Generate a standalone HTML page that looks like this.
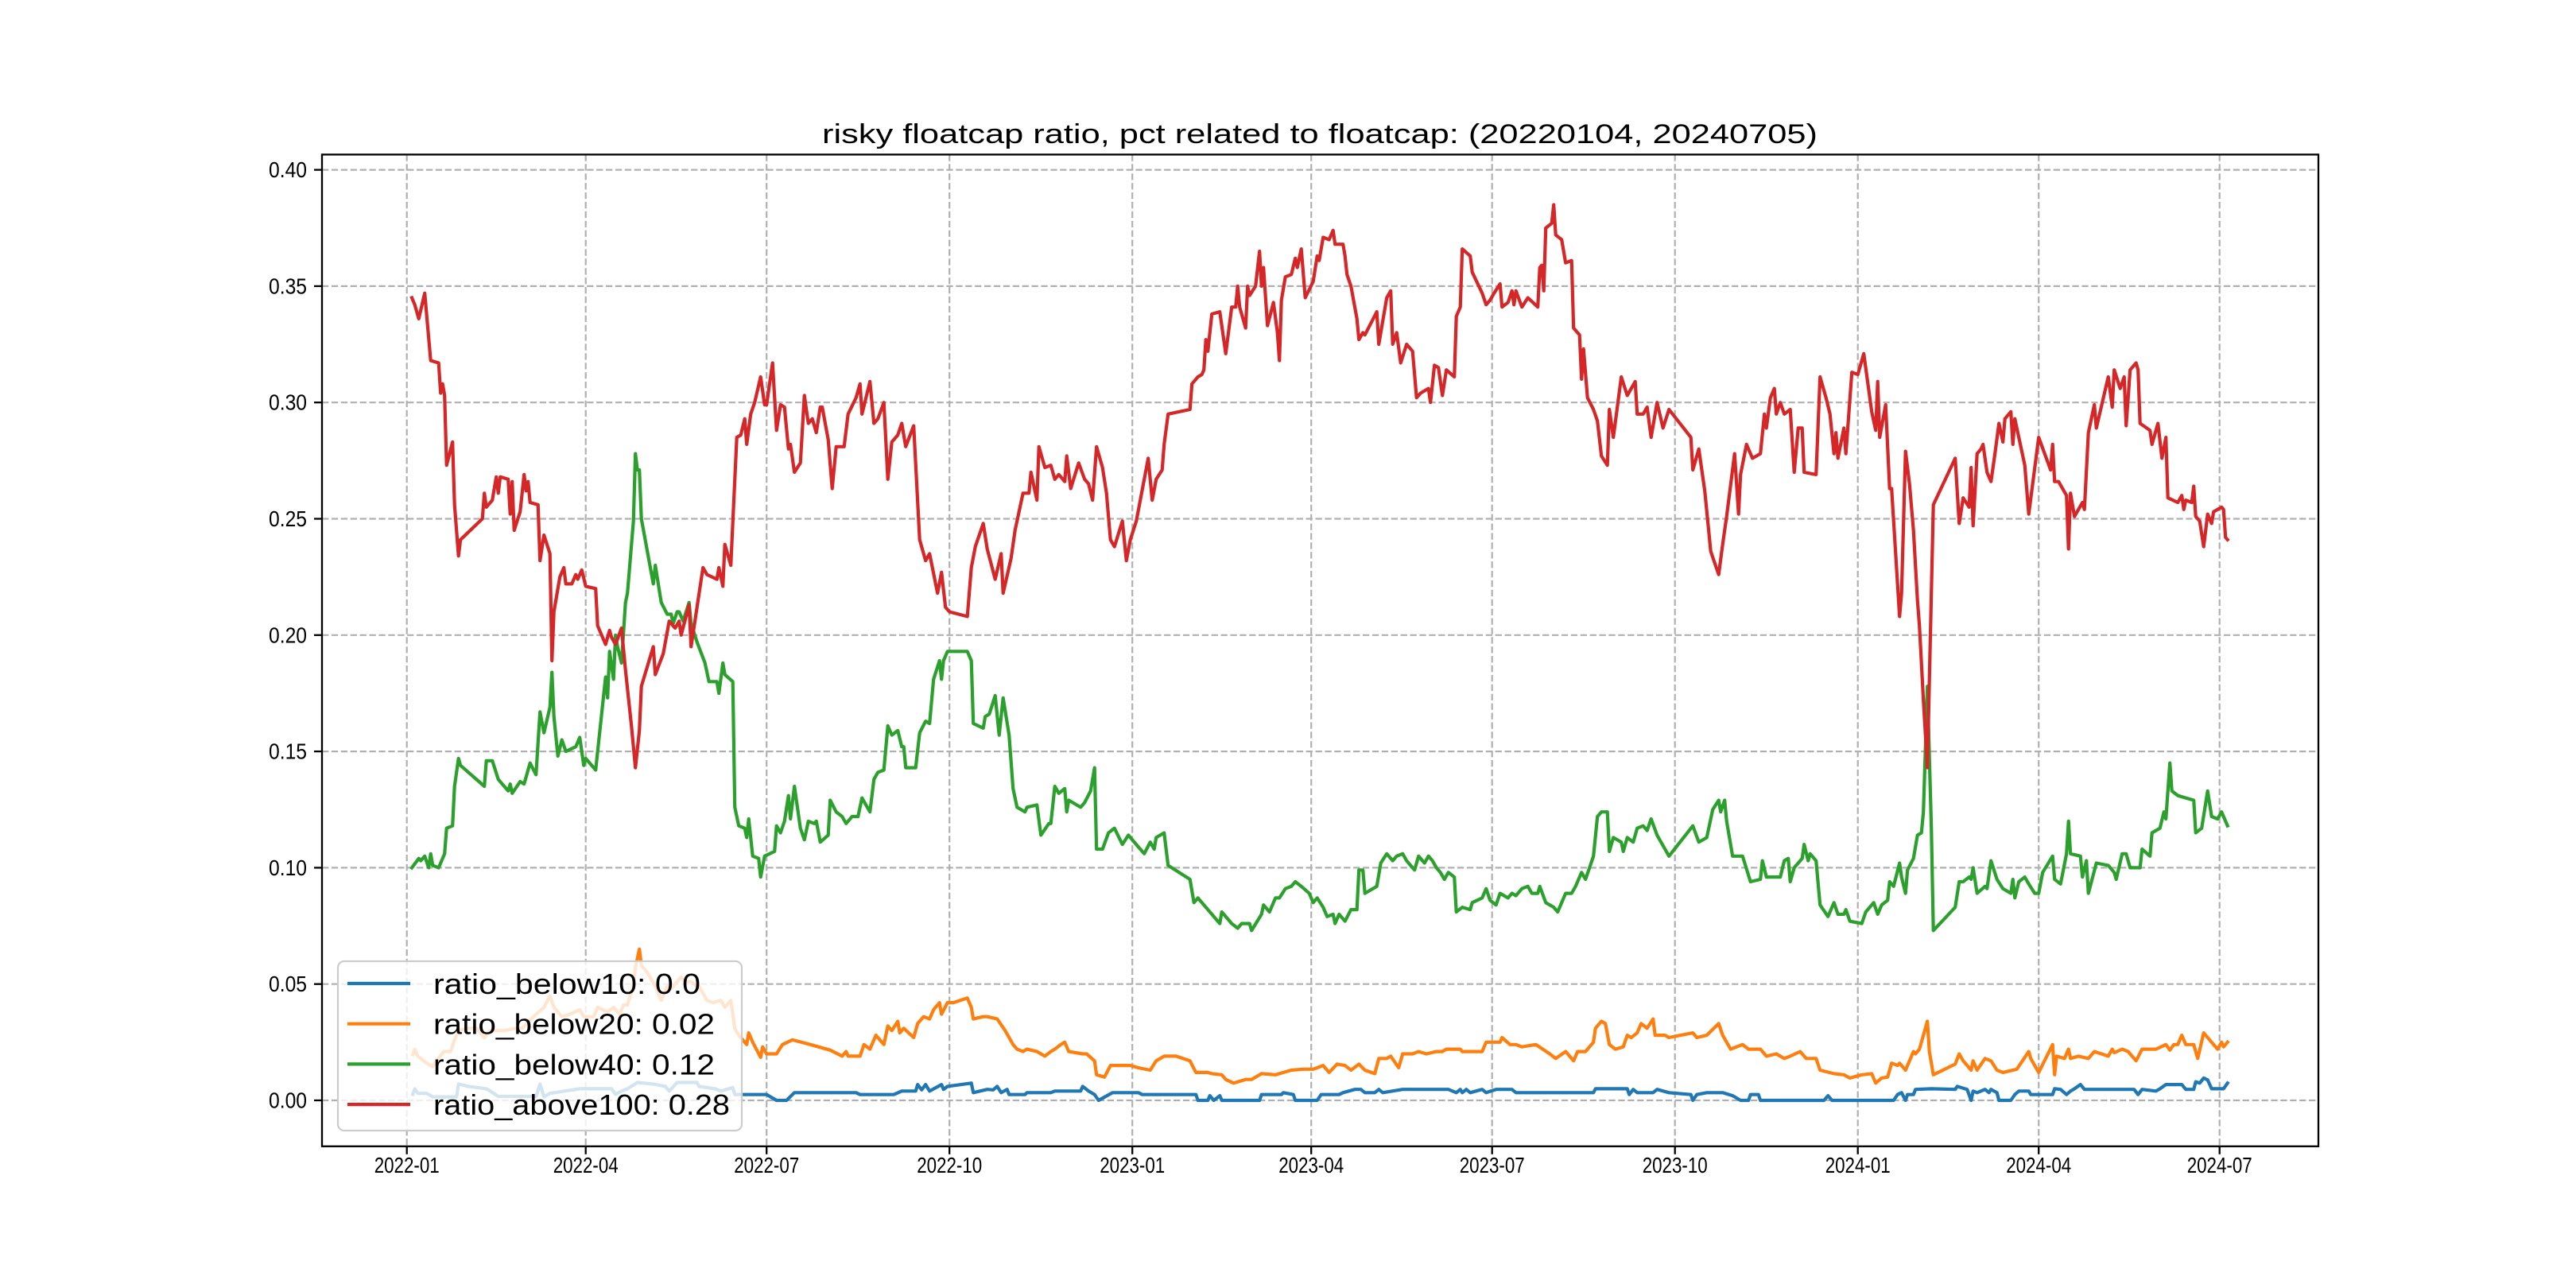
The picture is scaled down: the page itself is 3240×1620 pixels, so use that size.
<!DOCTYPE html>
<html><head><meta charset="utf-8"><title>risky floatcap ratio</title>
<style>
html,body{margin:0;padding:0;background:#fff;}
svg{display:block;}
text{font-family:"WenQuanYi Zen Hei","Liberation Sans","Noto Sans CJK SC",sans-serif;fill:#000;}
</style></head>
<body>
<svg id="chart" width="3240" height="1620" viewBox="0 0 3240 1620" xmlns="http://www.w3.org/2000/svg">
<rect x="0" y="0" width="3240" height="1620" fill="#fff"/>
<g id="grid"></g>
<g id="series"></g>
<g id="axes"></g>
<text x="1660" y="180" font-size="34" text-anchor="middle" textLength="1252" lengthAdjust="spacingAndGlyphs">risky floatcap ratio, pct related to floatcap: (20220104, 20240705)</text>
<g id="legend"></g>
</svg>
<script>
// days since 2022-01-01
const xTickDays = [0,90,181,273,365,455,546,638,730,821,912];
const xTickLabels = ["2022-01","2022-04","2022-07","2022-10","2023-01","2023-04","2023-07","2023-10","2024-01","2024-04","2024-07"];
const yTickValues = [0,0.05,0.10,0.15,0.20,0.25,0.30,0.35,0.40];
const yTickLabels = ["0.00","0.05","0.10","0.15","0.20","0.25","0.30","0.35","0.40"];
const seriesNames = ["ratio_below10: 0.0","ratio_below20: 0.02","ratio_below40: 0.12","ratio_above100: 0.28"];

const blueDays = [3,4,5.5,10,13,25,26,31,40,41,46,65,67,69,72,87,103,105,108,111,116,124,130,132,136,146,147,155,158,164,165,181,186,191,195,226,228,245,249,256,257,259,261,263,269,270,272,284,285,292,295,297,299,302,303,311,312,324,326,339,340,343,346,348,351,355,368,370,397,398,403,404,406,409,410,429,430,440,441,446,447,458,460,469,471,477,480,482,487,489,491,501,524,528,530,531,533,535,541,543,548,556,558,597,598,614,615,617,619,627,629,635,646,647,649,654,662,667,671,675,676,680,681,713,715,717,748,750,752,754,755,758,759,767,779,780,785,787,788,790,794,796,797,800,801,807,809,811,816,817,828,829,832,835,837,839,842,844,869,871,873,880,882,885,893,895,899,900,902,904,906,908,914,916];
const blueVals = [.0026,.005,.003,.003,.0015,.0015,.007,.006,.005,.0045,.0017,.0017,.007,.0015,.003,.005,.005,.0026,.004,.005,.0077,.007,.006,.004,.0077,.0077,.006,.005,.004,.0055,.0025,.0025,0,0,.0033,.0033,.0025,.0025,.004,.004,.0068,.0045,.0068,.004,.0068,.0047,.006,.0074,.0033,.0047,.0045,.006,.0033,.0047,.0025,.0025,.0033,.0033,.004,.004,.006,.004,.0025,0,.0014,.0033,.0033,.0025,.0025,0,0,.002,0,.002,0,0,.0025,.0025,.0033,.0025,0,0,.0025,.0025,.0033,.0047,.0047,.0033,.0033,.0047,.0033,.0047,.0047,.0033,.0047,.0033,.0047,.0033,.0047,.0033,.0047,.0047,.0033,.0033,.005,.005,.0025,.0047,.0033,.0033,.0047,.0033,.0025,0,.0025,.0033,.0033,.002,0,0,.0025,.0025,0,0,.002,0,0,.0025,.0033,0,.0025,.0025,.0047,.005,.0047,.006,.0047,0,.004,.0033,.0047,.0033,.0047,.0033,0,0,.0025,.004,.004,.0025,.0025,.005,.0047,.0025,.004,.005,.0068,.0047,.0047,.0025,.0047,.004,.005,.0068,.0068,.0047,.0047,.008,.0074,.0096,.0088,.005,.005,.0074];

const orangeDays = [3,4,5.5,10,13,15,18.5,22,24,26,31,35,39,42,49,55,58,65,69,72,74,78,82,87,89,94,96,101,104,107,109,111,114,115,117,118,121,125,128,131,133,138,140,143,146,147,151,154,158,160,163,165,167,171,172,174,178,179,181,186,189,194,203,213,219,221,222,228,230,233,236,240,242,244,247,248,250,255,257,260,263,265,268,269,272,275,282,284,285,290,292,297,301,305,307,310,312,317,321,324,326,329,331,333,340,342,346,347,351,354,361,364,368,374,377,381,387,394,397,403,405,410,412,416,422,425,430,437,441,445,451,456,458,461,464,468,472,475,479,482,487,489,493,495,499,501,506,509,513,518,521,523,530,531,541,543,550,551,555,558,561,568,575,578,583,587,589,593,597,598,601,603,605,608,612,614,616,619,621,624,627,628,633,635,647,649,654,660,662,666,672,675,681,684,689,693,696,701,704,709,711,718,723,726,732,737,739,742,745,747,750,751,754,758,759,761,765,766,768,779,781,783,787,788,790,794,797,800,803,810,816,817,821,828,829,830,834,836,837,841,846,849,856,858,859,863,866,870,873,874,880,885,887,889,891,893,895,899,901,904,906,911,913,914,916];
const orangeVals = [.0197,.022,.019,.016,.0145,.017,.021,.021,.026,.030,.031,.031,.027,.030,.030,.031,.031,.037,.040,.045,.040,.036,.037,.039,.036,.036,.040,.038,.040,.037,.041,.041,.050,.057,.065,.058,.055,.049,.043,.049,.048,.053,.051,.051,.049,.049,.043,.042,.043,.040,.043,.031,.028,.024,.029,.025,.0185,.023,.020,.020,.024,.026,.024,.0216,.019,.021,.019,.019,.024,.022,.028,.024,.032,.030,.034,.029,.031,.027,.033,.036,.035,.039,.042,.037,.042,.042,.044,.040,.035,.036,.036,.035,.030,.024,.022,.021,.022,.021,.019,.021,.022,.024,.025,.021,.020,.020,.017,.011,.010,.015,.015,.015,.014,.013,.017,.019,.019,.017,.012,.012,.0115,.011,.009,.0074,.009,.009,.0115,.011,.012,.013,.0134,.0134,.014,.015,.012,.0156,.015,.013,.0156,.013,.0115,.018,.018,.019,.014,.020,.020,.021,.020,.021,.021,.022,.022,.021,.021,.025,.025,.027,.024,.024,.023,.024,.020,.018,.021,.017,.021,.021,.025,.031,.034,.033,.024,.022,.023,.028,.027,.029,.033,.031,.035,.028,.028,.027,.029,.027,.028,.033,.028,.022,.024,.022,.022,.019,.020,.018,.019,.021,.018,.018,.013,.0115,.011,.0096,.011,.0115,.0074,.0096,.010,.016,.015,.016,.013,.021,.020,.022,.034,.021,.011,.0156,.020,.017,.013,.017,.013,.018,.017,.013,.012,.0134,.021,.018,.012,.024,.011,.019,.018,.022,.018,.019,.018,.021,.019,.022,.0205,.022,.021,.017,.022,.022,.022,.024,.0216,.024,.024,.028,.024,.024,.018,.029,.027,.022,.025,.023,.025];

const greenDays = [2.5,6,7,9,11,12,13,16,19,20,23,24,26,27,39,40,43,46,51,52,53,57,59,62,65,67,69,72,73,74,76,78,80,85,87,89,90,95,97,100,101,102,104,105,106,108,110,111,114,115,116,117,118,124,125,128,131,133,134,136,137,139,142,143,146,150,152,156,157,159,160,164,165,167,170,171,172,174,177,178,180,185,186,188,190,192,193,195,198,200,202,205,206,208,212,213,216,219,221,224,227,229,233,235,237,240,242,244,247,249,250,251,256,258,261,263,265,268,269,270,272,282,284,285,290,291,293,296,298,300,303,305,307,311,312,317,319,323,324,326,328,331,332,333,339,341,344,346,347,350,353,356,360,363,368,371,374,376,377,381,383,394,396,398,402,405,409,410,415,418,420,424,425,430,431,434,437,439,442,445,447,450,454,456,458,461,463,466,467,469,472,475,478,479,481,482,488,490,493,496,498,501,503,507,509,512,514,516,518,520,522,524,527,528,531,535,536,541,543,545,548,550,554,556,558,561,564,566,569,570,573,577,579,581,583,586,588,591,593,597,599,601,604,605,607,611,612,614,617,619,622,624,626,629,633,635,647,650,654,657,660,661,663,664,667,672,676,681,682,684,691,693,695,696,698,702,703,705,706,709,711,715,718,720,723,724,726,732,734,738,740,742,745,746,748,751,752,754,755,758,760,762,763,765,767,768,779,781,783,786,787,788,790,794,795,797,800,803,807,808,809,811,814,816,819,821,823,828,829,832,835,836,837,842,843,845,846,850,856,859,860,863,865,867,872,873,877,878,882,884,885,887,888,891,895,899,900,903,906,908,911,913,914,916];
const greenVals = [.100,.104,.103,.105,.100,.106,.101,.100,.106,.117,.118,.135,.147,.144,.135,.146,.146,.138,.133,.136,.132,.137,.136,.145,.140,.167,.158,.169,.184,.165,.148,.155,.150,.152,.156,.144,.147,.142,.158,.182,.173,.193,.181,.200,.195,.188,.214,.218,.249,.278,.271,.271,.250,.222,.230,.214,.209,.209,.205,.210,.210,.206,.214,.205,.197,.188,.180,.180,.175,.188,.183,.180,.126,.118,.117,.113,.121,.105,.104,.096,.105,.107,.118,.115,.120,.131,.121,.135,.117,.112,.120,.119,.120,.111,.114,.129,.124,.122,.119,.122,.122,.130,.124,.138,.141,.142,.161,.157,.159,.152,.152,.143,.143,.158,.163,.162,.181,.189,.181,.189,.193,.193,.189,.162,.160,.165,.166,.174,.157,.173,.157,.134,.126,.124,.126,.127,.114,.119,.119,.135,.132,.134,.124,.129,.126,.128,.133,.143,.108,.108,.115,.117,.110,.114,.109,.106,.111,.108,.113,.115,.101,.095,.085,.087,.083,.080,.076,.081,.076,.074,.076,.076,.073,.080,.084,.081,.087,.087,.091,.092,.094,.092,.089,.085,.087,.083,.079,.080,.076,.080,.077,.082,.082,.099,.099,.089,.092,.102,.106,.103,.105,.106,.103,.099,.105,.102,.105,.103,.100,.098,.095,.098,.096,.081,.083,.082,.085,.087,.091,.086,.084,.089,.087,.089,.088,.091,.092,.089,.089,.092,.085,.083,.081,.085,.089,.089,.092,.098,.095,.105,.122,.124,.124,.107,.113,.111,.107,.113,.111,.117,.118,.116,.121,.114,.108,.105,.118,.111,.113,.125,.129,.124,.129,.120,.105,.105,.094,.095,.103,.096,.096,.103,.104,.094,.100,.104,.110,.103,.106,.103,.084,.079,.085,.080,.080,.082,.077,.076,.081,.085,.080,.084,.086,.094,.092,.102,.096,.089,.099,.104,.114,.115,.124,.178,.117,.073,.083,.094,.094,.096,.095,.100,.089,.092,.091,.103,.095,.091,.089,.095,.087,.094,.096,.093,.089,.089,.098,.105,.095,.093,.106,.120,.106,.105,.096,.103,.089,.102,.101,.098,.095,.106,.106,.100,.100,.108,.105,.115,.117,.124,.121,.145,.133,.131,.130,.129,.115,.117,.133,.122,.121,.124,.122,.118];

const redDays = [2.5,4,6,9,12,16,17,18,19,20,23,24,26,27,38,39,40,43,45,46,47,51,52,53,54,57,59,60,61,62,66,67,69,72,73,74,77,79,80,83,85,86,88,90,95,96,100,102,103,105,108,110,113,115,117,118,124,125,129,132,135,137,138,142,143,149,151,156,157,159,160,163,166,168,170,171,173,175,178,180,181,184,186,188,190,192,193,195,198,200,202,204,206,208,209,212,214,216,220,222,226,228,229,233,235,237,240,242,244,247,249,251,255,258,261,263,267,269,271,273,282,284,286,290,292,296,299,300,304,306,310,313,314,317,318,321,324,326,328,331,332,334,338,341,343,345,347,350,352,354,356,360,362,364,367,371,373,375,377,380,381,383,394,395,398,400,401,402,403,405,409,412,415,417,418,419,422,423,424,427,429,430,431,433,436,438,439,440,442,445,447,448,450,452,456,458,459,461,464,466,467,471,472,473,475,478,479,481,482,488,489,493,495,496,498,500,503,506,508,510,514,515,517,519,521,523,527,528,530,531,535,536,541,543,545,547,550,551,554,556,557,558,561,564,569,570,571,572,573,576,577,578,581,583,586,587,590,591,592,594,597,599,601,604,605,607,611,614,618,619,622,624,626,629,632,635,646,647,650,653,656,660,662,664,668,670,671,674,677,681,683,684,686,688,689,691,693,696,698,700,702,703,709,711,714,716,718,719,720,723,724,727,730,733,737,739,740,741,744,746,747,751,752,754,756,758,760,761,763,765,768,779,781,783,786,787,788,790,792,793,795,797,799,801,803,804,807,808,809,811,814,816,821,827,828,829,831,835,836,837,839,843,844,846,849,850,856,858,859,862,864,865,867,870,871,872,877,878,881,883,885,886,891,893,894,895,898,899,900,902,904,906,908,909,913,914,915,916];
const redVals = [.345,.342,.336,.347,.318,.317,.304,.308,.303,.273,.283,.256,.234,.241,.250,.261,.255,.258,.268,.261,.268,.267,.252,.266,.245,.253,.269,.262,.266,.257,.256,.232,.243,.235,.189,.210,.225,.229,.222,.222,.226,.224,.228,.221,.220,.204,.196,.202,.199,.196,.203,.185,.161,.143,.159,.178,.195,.183,.192,.206,.203,.206,.200,.213,.195,.229,.226,.224,.229,.221,.239,.230,.285,.286,.293,.282,.295,.300,.311,.299,.299,.317,.288,.299,.298,.280,.282,.270,.274,.303,.291,.293,.287,.298,.298,.284,.263,.281,.281,.295,.302,.308,.295,.309,.291,.293,.300,.267,.283,.286,.291,.281,.290,.241,.232,.235,.218,.227,.212,.210,.208,.229,.238,.248,.237,.224,.235,.218,.233,.245,.261,.261,.270,.258,.281,.272,.273,.267,.269,.266,.277,.263,.274,.267,.265,.258,.281,.272,.261,.241,.238,.249,.232,.241,.249,.267,.276,.258,.267,.271,.282,.295,.297,.308,.311,.312,.314,.327,.322,.338,.339,.321,.341,.341,.350,.341,.332,.350,.346,.350,.365,.350,.358,.333,.343,.330,.318,.344,.354,.355,.362,.358,.366,.345,.352,.363,.361,.371,.370,.374,.368,.368,.363,.355,.350,.336,.327,.330,.329,.339,.325,.345,.348,.325,.330,.317,.325,.322,.302,.304,.306,.300,.316,.315,.303,.314,.311,.337,.341,.366,.363,.356,.347,.342,.344,.347,.351,.341,.343,.348,.342,.348,.341,.345,.341,.358,.359,.348,.375,.377,.385,.372,.370,.360,.361,.332,.329,.310,.323,.302,.297,.292,.277,.273,.297,.285,.311,.303,.309,.295,.295,.298,.285,.300,.289,.297,.285,.271,.280,.262,.236,.226,.239,.251,.278,.252,.269,.282,.276,.278,.295,.289,.302,.306,.295,.300,.295,.297,.270,.289,.289,.270,.269,.311,.302,.295,.278,.287,.276,.289,.278,.313,.312,.321,.296,.288,.309,.285,.299,.263,.263,.208,.218,.279,.265,.245,.215,.204,.172,.143,.256,.276,.248,.259,.255,.272,.247,.278,.280,.282,.270,.266,.278,.291,.283,.293,.296,.282,.293,.285,.273,.252,.285,.271,.282,.266,.266,.260,.237,.261,.251,.257,.254,.287,.299,.289,.311,.298,.314,.306,.311,.290,.314,.317,.314,.291,.288,.282,.291,.276,.285,.259,.257,.260,.254,.258,.257,.264,.251,.249,.238,.252,.248,.253,.255,.254,.242,.241];

const NS = "http://www.w3.org/2000/svg";
const AX = {left:405, right:2916, top:194.4, bottom:1441.8};
const X0 = 511.7, PX_PER_DAY = 2.5;
const Y0 = 1384, PX_PER_UNIT = 2926;
function xScale(d){ return X0 + d*PX_PER_DAY; }
function yScale(v){ return Y0 - v*PX_PER_UNIT; }
function mk(tag, attrs, parent){
  const el = document.createElementNS(NS, tag);
  for (const k in attrs) el.setAttribute(k, attrs[k]);
  parent.appendChild(el);
  return el;
}
const grid = document.getElementById('grid');
const series = document.getElementById('series');
const axes = document.getElementById('axes');
const legend = document.getElementById('legend');

// grid lines
xTickDays.forEach((d,i)=>{
  const x = xScale(d);
  const g = mk('line',{x1:x,x2:x,y1:AX.top,y2:AX.bottom,stroke:'#b0b0b0','stroke-width':2.2,'stroke-dasharray':'8.3,3.6'},grid);
  
  
});
yTickValues.forEach((v,i)=>{
  const y = yScale(v);
  const g = mk('line',{x1:AX.left,x2:AX.right,y1:y,y2:y,stroke:'#b0b0b0','stroke-width':2.2,'stroke-dasharray':'8.3,3.6'},grid);
  
  
});

// series
const allSeries = [
  {days:blueDays, vals:blueVals, color:'#1f77b4', name:'line-ratio-below10'},
  {days:orangeDays, vals:orangeVals, color:'#ff7f0e', name:'line-ratio-below20'},
  {days:greenDays, vals:greenVals, color:'#2ca02c', name:'line-ratio-below40'},
  {days:redDays, vals:redVals, color:'#d62728', name:'line-ratio-above100'}
];
allSeries.forEach(s=>{
  const pts = s.days.map((d,i)=>xScale(d).toFixed(1)+','+yScale(s.vals[i]).toFixed(1)).join(' ');
  const p = mk('polyline',{points:pts,fill:'none',stroke:s.color,'stroke-width':4.2,'stroke-linejoin':'round','stroke-linecap':'square'},series);
  
  
});

// spines
const frame = mk('rect',{x:AX.left,y:AX.top,width:AX.right-AX.left,height:AX.bottom-AX.top,fill:'none',stroke:'#000','stroke-width':2.3},axes);



// x ticks
xTickDays.forEach((d,i)=>{
  const x = xScale(d);
  const t = mk('line',{x1:x,x2:x,y1:AX.bottom,y2:AX.bottom+10,stroke:'#000','stroke-width':2.3},axes);
  
  
  const lb = mk('text',{x:x,y:1475,'font-size':28,'text-anchor':'middle',textLength:82,lengthAdjust:'spacingAndGlyphs'},axes);
  lb.textContent = xTickLabels[i];
  
  
});
// y ticks
yTickValues.forEach((v,i)=>{
  const y = yScale(v);
  const t = mk('line',{x1:AX.left-10,x2:AX.left,y1:y,y2:y,stroke:'#000','stroke-width':2.3},axes);
  
  
  const lb = mk('text',{x:386,y:y+9.5,'font-size':28,'text-anchor':'end',textLength:48,lengthAdjust:'spacingAndGlyphs'},axes);
  lb.textContent = yTickLabels[i];
  
  
});

// legend
const box = mk('rect',{x:425,y:1209,width:508,height:213,rx:8,ry:8,fill:'rgba(255,255,255,0.8)',stroke:'#cccccc','stroke-width':2.2},legend);


const legendWidths = [336,354,354,373];
allSeries.forEach((s,i)=>{
  const y = 1237 + i*50.7;
  const ln = mk('line',{x1:437,x2:516,y1:y,y2:y,stroke:s.color,'stroke-width':4.2},legend);
  
  
  const tx = mk('text',{x:545,y:y+13,'font-size':36,textLength:legendWidths[i],lengthAdjust:'spacingAndGlyphs'},legend);
  tx.textContent = seriesNames[i];
  
  
});
</script>
</body></html>
